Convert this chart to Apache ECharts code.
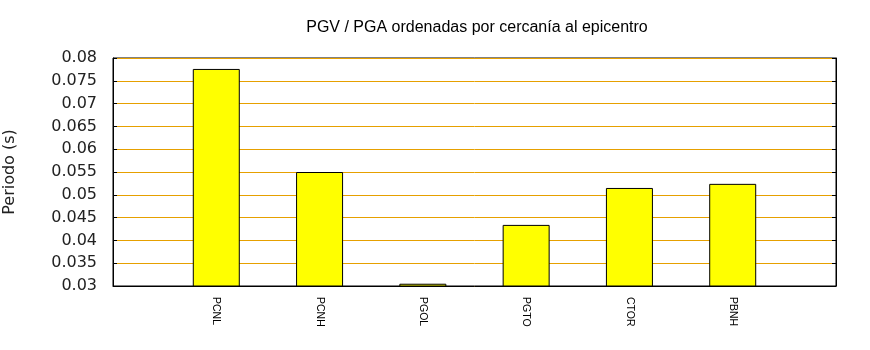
<!DOCTYPE html>
<html>
<head>
<meta charset="utf-8">
<script src="https://cdn.jsdelivr.net/npm/echarts@6/dist/echarts.min.js"></script>
<style>
  html, body { margin: 0; padding: 0; background: #fff; }
  #chart { width: 870px; height: 350px; }
</style>
</head>
<body>
<div id="chart"></div>
<script>
// Stations ordered by distance to the epicentre (blank slots pad both ends)
const stations = ['', 'PCNL', 'PCNH', 'PGOL', 'PGTO', 'CTOR', 'PBNH', ''];
// PGV / PGA period per station, in seconds
const periods = [null, 0.0776, 0.0550, 0.0305, 0.0434, 0.0515, 0.0524, null];
// Value axis range and step
const yMin = 0.03;
const yMax = 0.08;
const yStep = 0.005;

const chart = echarts.init(document.getElementById('chart'), null, { renderer: 'canvas' });

const tickFmt = v => String(+v.toFixed(3));
const gridColor = '#e6a000';
const dejavu = "'DejaVu Sans', sans-serif";
const arial = "'Liberation Sans', Arial, sans-serif";

chart.setOption({
  animation: false,
  backgroundColor: '#ffffff',
  title: {
    text: 'PGV / PGA ordenadas por cercanía al epicentro',
    left: 472,
    textAlign: 'center',
    top: 15,
    textStyle: {
      fontFamily: arial,
      fontSize: 16,
      fontWeight: 'normal',
      color: '#000'
    }
  },
  grid: {
    left: 113,
    right: 34,
    top: 58,
    bottom: 64,
    containLabel: false,
    outerBoundsMode: 'none',
    show: true,
    borderColor: '#000',
    borderWidth: 1,
    backgroundColor: 'transparent'
  },
  xAxis: {
    type: 'category',
    data: stations,
    boundaryGap: false,
    axisLine: { show: true, lineStyle: { color: '#000', width: 1 } },
    axisTick: { show: false },
    splitLine: { show: false },
    axisLabel: {
      rotate: -90,
      margin: 11,
      interval: 0,
      fontFamily: arial,
      fontSize: 10.5,
      color: '#000'
    }
  },
  yAxis: [
    {
      type: 'value',
      min: yMin,
      max: yMax,
      interval: yStep,
      name: 'Periodo (s)',
      nameLocation: 'middle',
      nameGap: 95,
      nameTextStyle: {
        fontFamily: dejavu,
        fontSize: 16,
        color: '#222'
      },
      axisLine: { show: true, lineStyle: { color: '#000', width: 1 } },
      axisTick: { show: true, inside: true, length: 4, lineStyle: { color: '#000' } },
      splitLine: { show: true, lineStyle: { color: gridColor, width: 1 } },
      axisLabel: {
        margin: 16,
        formatter: tickFmt,
        fontFamily: dejavu,
        fontSize: 16,
        color: '#222'
      }
    },
    {
      type: 'value',
      position: 'right',
      min: yMin,
      max: yMax,
      interval: yStep,
      axisLine: { show: true, lineStyle: { color: '#000', width: 1 } },
      axisTick: { show: true, inside: true, length: 4, lineStyle: { color: '#000' } },
      splitLine: { show: false },
      axisLabel: { show: false }
    }
  ],
  series: [
    {
      type: 'bar',
      data: periods,
      barWidth: 47,
      itemStyle: {
        color: '#ffff00',
        borderColor: '#000',
        borderWidth: 1
      }
    }
  ]
});
</script>
</body>
</html>
